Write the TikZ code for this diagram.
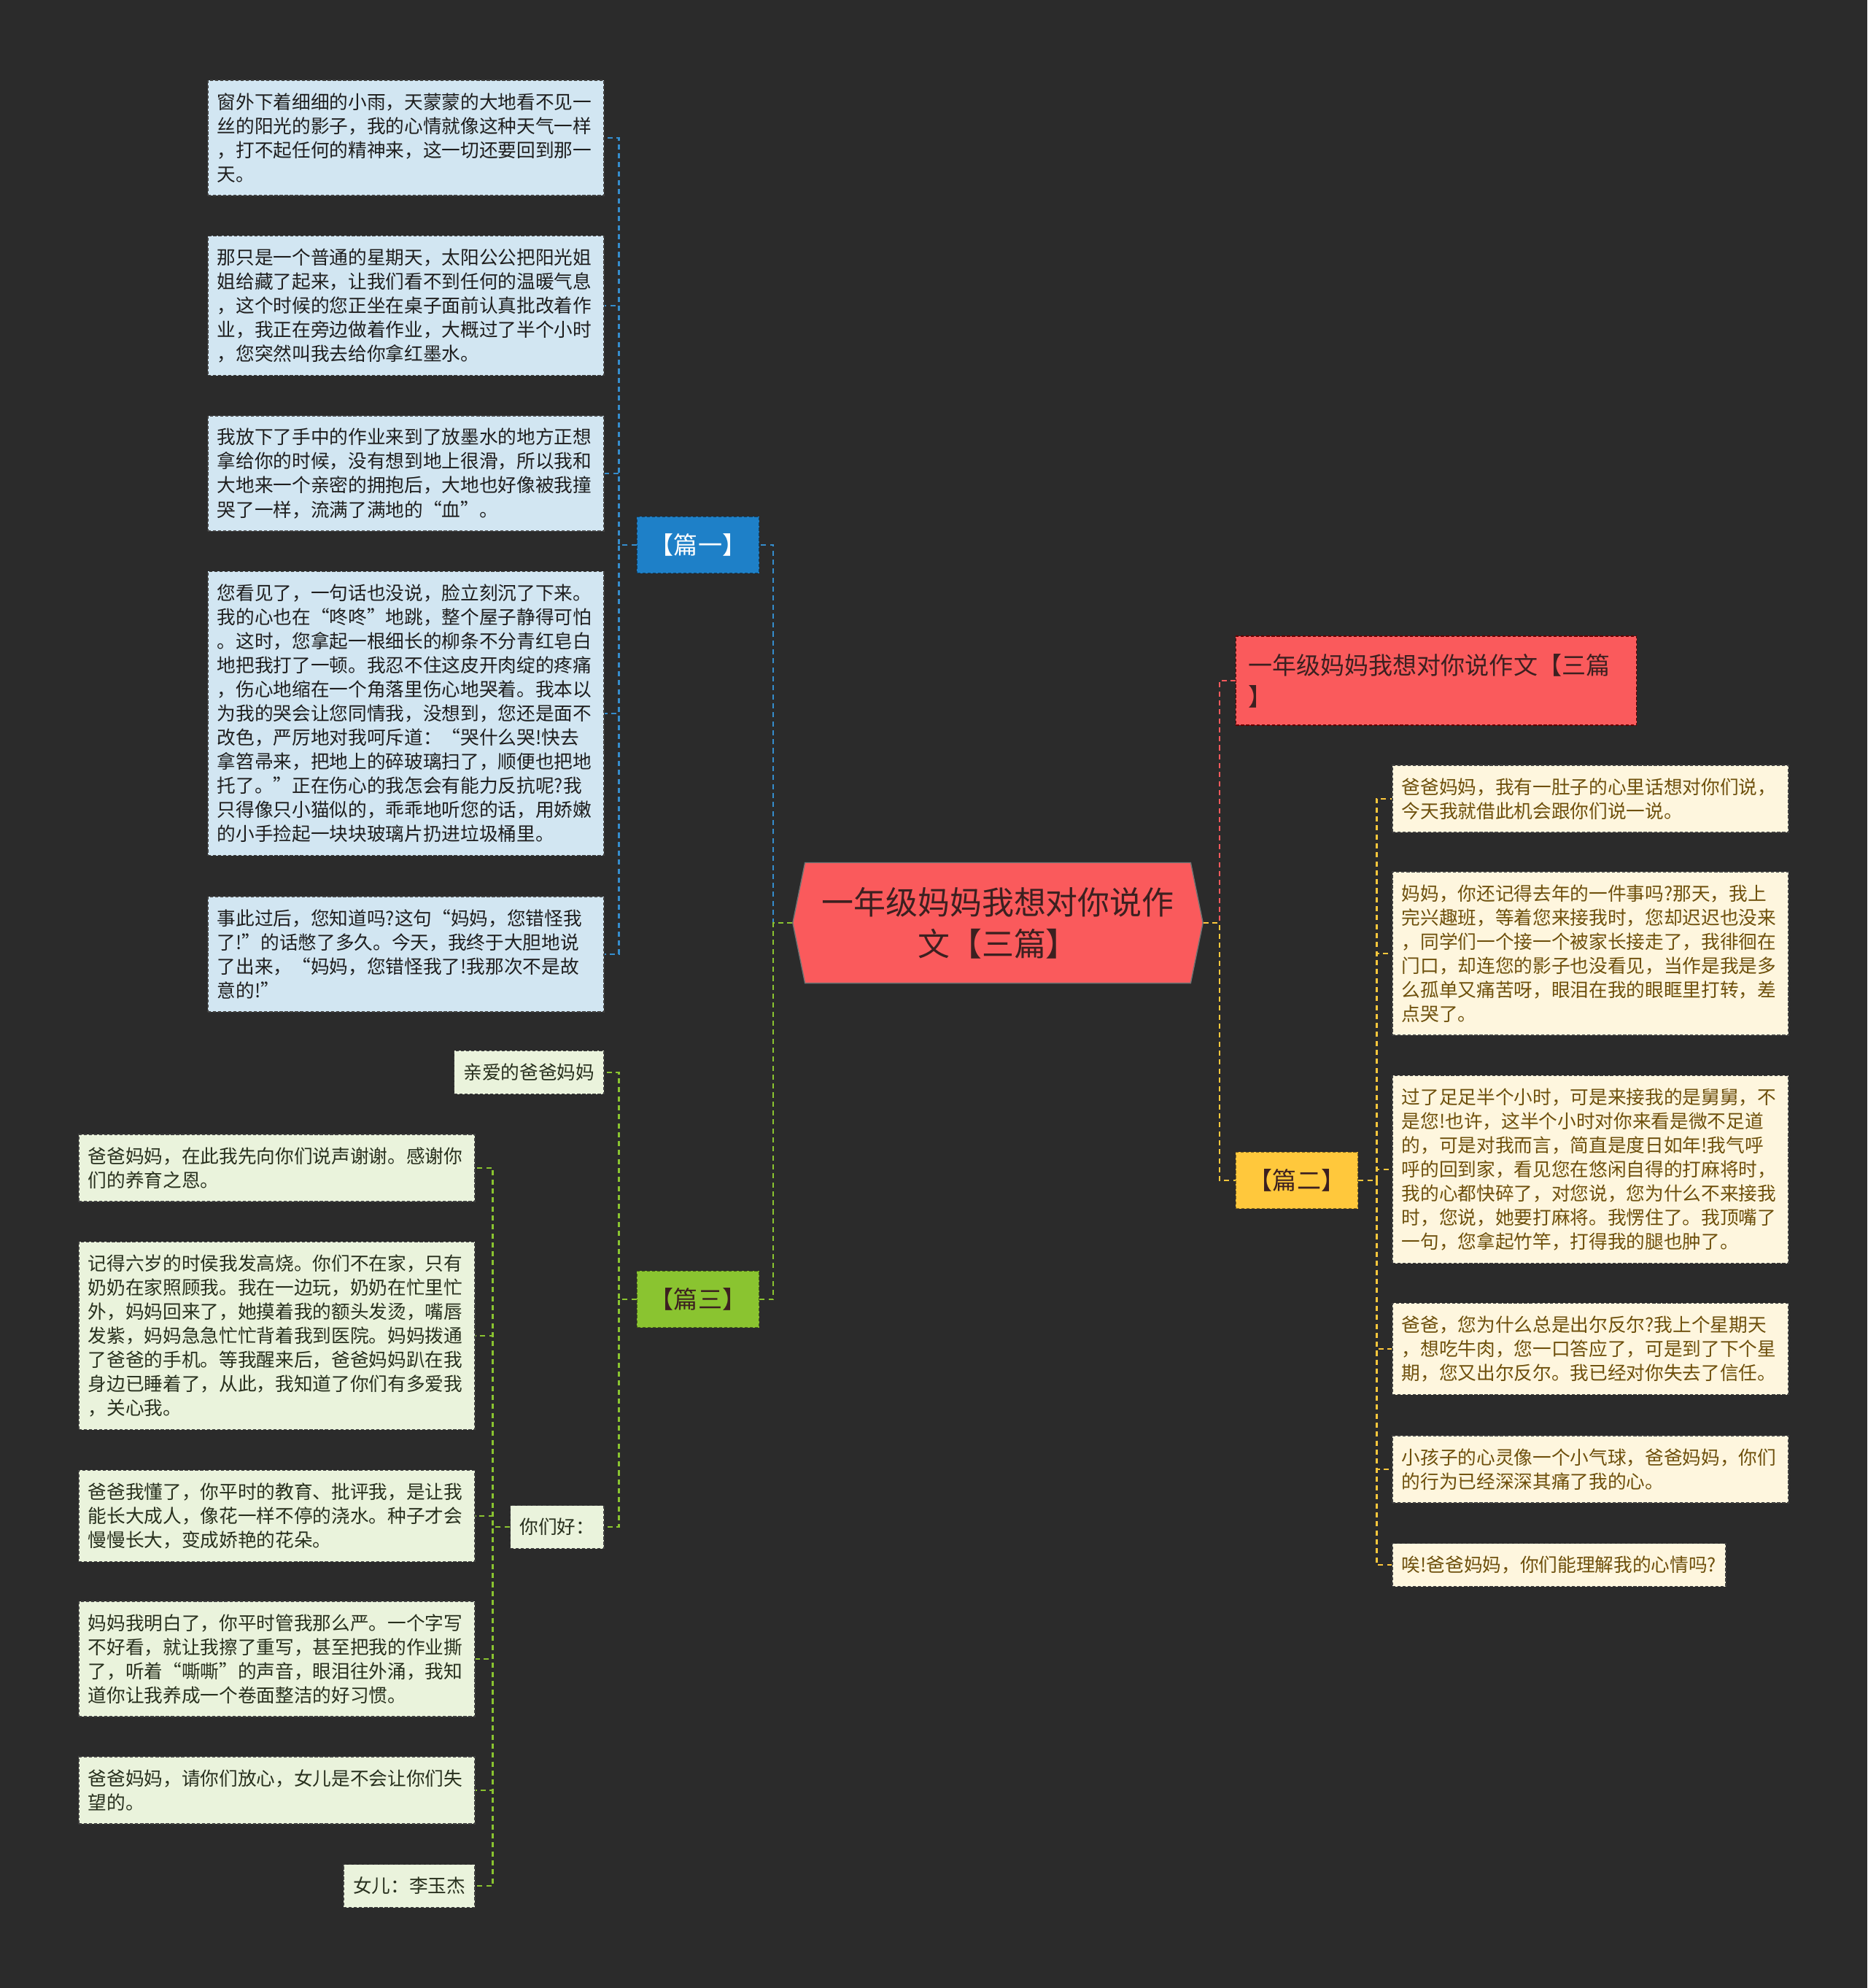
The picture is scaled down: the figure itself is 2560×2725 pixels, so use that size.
\documentclass[tikz,border=0pt]{standalone}
\usepackage{fontspec}
\setmainfont{Noto Sans CJK SC}
\usepackage{tikz}
\usetikzlibrary{shapes.symbols}
\definecolor{cbg}{RGB}{43,43,43}
\definecolor{cred}{RGB}{250,90,92}
\definecolor{chubtxt}{RGB}{60,32,32}
\definecolor{cblue}{RGB}{30,128,200}
\definecolor{cgreen}{RGB}{138,196,48}
\definecolor{cyellow}{RGB}{255,200,60}
\definecolor{cbluebox}{RGB}{210,230,242}
\definecolor{cgreenbox}{RGB}{234,243,220}
\definecolor{cyellowbox}{RGB}{254,246,222}
\definecolor{cbluetxt}{RGB}{30,30,30}
\definecolor{cgreentxt}{RGB}{40,48,30}
\definecolor{cyellowtxt}{RGB}{110,80,12}
\newcommand\hubfont{\fontsize{12.5pt}{16.2pt}\selectfont}
\newcommand\tagfont{\fontsize{9.4pt}{12.2pt}\selectfont}
\newcommand\notefont{\fontsize{7.3pt}{9.39pt}\selectfont}
\tikzset{
  hub/.style={signal,signal to=west and east,signal pointer angle=157,
    fill=cred,draw=black!55,line width=0.4pt,minimum width=5.62cm,
    minimum height=1.65cm,inner sep=0pt,align=center,text=chubtxt,
    font=\hubfont},
  basenote/.style={rectangle,draw=black!75,dash pattern=on 1.2pt off 0.8pt,
    line width=0.45pt,inner xsep=0.13cm,inner ysep=0.13cm,align=left,
    font=\notefont},
  note/.style={basenote,text width=5.17cm},
  nlines/.style={minimum height={#1*0.33cm+0.26cm}},
  bluenote/.style={fill=cbluebox,text=cbluetxt},
  greennote/.style={fill=cgreenbox,text=cgreentxt},
  yellownote/.style={fill=cyellowbox,text=cyellowtxt},
  tag/.style={rectangle,dash pattern=on 1.2pt off 0.8pt,line width=0.45pt,
    minimum width=1.67cm,minimum height=0.77cm,inner sep=0pt,font=\tagfont},
  title/.style={rectangle,fill=cred,draw=red!40!black,
    dash pattern=on 1.2pt off 0.8pt,line width=0.45pt,text=chubtxt,
    minimum width=5.49cm,minimum height=1.22cm,text width=5.15cm,
    inner xsep=0.17cm,align=left,font=\tagfont},
  % connectors: dashed, coloured after their branch
  link/.style={line width=0.7pt,dash pattern=on 2pt off 1.5pt},
  bluelink/.style={link,draw=cblue!90!white},
  greenlink/.style={link,draw=cgreen},
  redlink/.style={link,draw=cred},
  yellowlink/.style={link,draw=cyellow}
}
\begin{document}
\begin{tikzpicture}[x=0.01cm,y=-0.01cm]
  \fill[cbg] (0,0) rectangle (2560,2725);
  % centre and the four branches
  \node[hub] (hub) at (1368,1265) {一年级妈妈我想对你说作\\文【三篇】};
  \node[tag,fill=cblue,draw=cblue!50!black,text=white] (p1) at (957,747) {【篇一】};
  \node[tag,fill=cgreen,draw=cgreen!50!black,text=chubtxt] (p3) at (957,1781) {【篇三】};
  \node[tag,fill=cyellow,draw=cyellow!50!black,text=chubtxt] (p2) at (1778,1618) {【篇二】};
  \node[title] (ttl) at (1969,933) {一年级妈妈我想对你说作文【三篇\\】};

  % part one
  \node[note,bluenote,nlines=4,anchor=east] (b1) at (829,189) {窗外下着细细的小雨，天蒙蒙的大地看不见一\\丝的阳光的影子，我的心情就像这种天气一样\\，打不起任何的精神来，这一切还要回到那一\\天。};
  \node[note,bluenote,nlines=5,anchor=east] (b2) at (829,419) {那只是一个普通的星期天，太阳公公把阳光姐\\姐给藏了起来，让我们看不到任何的温暖气息\\，这个时候的您正坐在桌子面前认真批改着作\\业，我正在旁边做着作业，大概过了半个小时\\，您突然叫我去给你拿红墨水。};
  \node[note,bluenote,nlines=4,anchor=east] (b3) at (829,649) {我放下了手中的作业来到了放墨水的地方正想\\拿给你的时候，没有想到地上很滑，所以我和\\大地来一个亲密的拥抱后，大地也好像被我撞\\哭了一样，流满了满地的“血”。};
  \node[note,bluenote,nlines=11,anchor=east] (b4) at (829,978) {您看见了，一句话也没说，脸立刻沉了下来。\\我的心也在“咚咚”地跳，整个屋子静得可怕\\。这时，您拿起一根细长的柳条不分青红皂白\\地把我打了一顿。我忍不住这皮开肉绽的疼痛\\，伤心地缩在一个角落里伤心地哭着。我本以\\为我的哭会让您同情我，没想到，您还是面不\\改色，严厉地对我呵斥道：“哭什么哭!快去\\拿笤帚来，把地上的碎玻璃扫了，顺便也把地\\托了。”正在伤心的我怎会有能力反抗呢?我\\只得像只小猫似的，乖乖地听您的话，用娇嫩\\的小手捡起一块块玻璃片扔进垃圾桶里。};
  \node[note,bluenote,nlines=4,anchor=east] (b5) at (829,1308) {事此过后，您知道吗?这句“妈妈，您错怪我\\了!”的话憋了多久。今天，我终于大胆地说\\了出来，“妈妈，您错怪我了!我那次不是故\\意的!”};

  % part three
  \node[basenote,greennote,nlines=1,anchor=east] (k1) at (829,1470) {亲爱的爸爸妈妈};
  \node[basenote,greennote,nlines=1,anchor=east] (k2) at (829,2093) {你们好：};
  \node[note,greennote,nlines=2,anchor=east] (g1) at (652,1601) {爸爸妈妈，在此我先向你们说声谢谢。感谢你\\们的养育之恩。};
  \node[note,greennote,nlines=7,anchor=east] (g2) at (652,1831) {记得六岁的时侯我发高烧。你们不在家，只有\\奶奶在家照顾我。我在一边玩，奶奶在忙里忙\\外，妈妈回来了，她摸着我的额头发烫，嘴唇\\发紫，妈妈急急忙忙背着我到医院。妈妈拨通\\了爸爸的手机。等我醒来后，爸爸妈妈趴在我\\身边已睡着了，从此，我知道了你们有多爱我\\，关心我。};
  \node[note,greennote,nlines=3,anchor=east] (g3) at (652,2078) {爸爸我懂了，你平时的教育、批评我，是让我\\能长大成人，像花一样不停的浇水。种子才会\\慢慢长大，变成娇艳的花朵。};
  \node[note,greennote,nlines=4,anchor=east] (g4) at (652,2274) {妈妈我明白了，你平时管我那么严。一个字写\\不好看，就让我擦了重写，甚至把我的作业撕\\了，听着“嘶嘶”的声音，眼泪往外涌，我知\\道你让我养成一个卷面整洁的好习惯。};
  \node[note,greennote,nlines=2,anchor=east] (g5) at (652,2454) {爸爸妈妈，请你们放心，女儿是不会让你们失\\望的。};
  \node[basenote,greennote,nlines=1,anchor=east] (g6) at (652,2585) {女儿：李玉杰};

  % part two
  \node[note,yellownote,nlines=2,anchor=west] (y1) at (1908,1095) {爸爸妈妈，我有一肚子的心里话想对你们说，\\今天我就借此机会跟你们说一说。};
  \node[note,yellownote,nlines=6,anchor=west] (y2) at (1908,1307) {妈妈，你还记得去年的一件事吗?那天，我上\\完兴趣班，等着您来接我时，您却迟迟也没来\\，同学们一个接一个被家长接走了，我徘徊在\\门口，却连您的影子也没看见，当作是我是多\\么孤单又痛苦呀，眼泪在我的眼眶里打转，差\\点哭了。};
  \node[note,yellownote,nlines=7,anchor=west] (y3) at (1908,1603) {过了足足半个小时，可是来接我的是舅舅，不\\是您!也许，这半个小时对你来看是微不足道\\的，可是对我而言，简直是度日如年!我气呼\\呼的回到家，看见您在悠闲自得的打麻将时，\\我的心都快碎了，对您说，您为什么不来接我\\时，您说，她要打麻将。我愣住了。我顶嘴了\\一句，您拿起竹竿，打得我的腿也肿了。};
  \node[note,yellownote,nlines=3,anchor=west] (y4) at (1908,1849) {爸爸，您为什么总是出尔反尔?我上个星期天\\，想吃牛肉，您一口答应了，可是到了下个星\\期，您又出尔反尔。我已经对你失去了信任。};
  \node[note,yellownote,nlines=2,anchor=west] (y5) at (1908,2014) {小孩子的心灵像一个小气球，爸爸妈妈，你们\\的行为已经深深其痛了我的心。};
  \node[basenote,yellownote,nlines=1,anchor=west] (y6) at (1908,2145) {唉!爸爸妈妈，你们能理解我的心情吗?};

  % connectors
  \draw[bluelink] (hub.west) -- ++(-26,0) |- (p1.east);
  \draw[greenlink] (hub.west) -- ++(-26,0) |- (p3.east);
  \draw[redlink] (hub.east) -- ++(22,0) |- (ttl.west);
  \draw[yellowlink] (hub.east) -- ++(22,0) |- (p2.west);
  \foreach \n in {b1,b2,b3,b4,b5}
    \draw[bluelink] (p1.west) -- ++(-24,0) |- (\n.east);
  \foreach \n in {k1,k2}
    \draw[greenlink] (p3.west) -- ++(-24,0) |- (\n.east);
  \foreach \n in {g1,g2,g3,g4,g5,g6}
    \draw[greenlink] (k2.west) -- ++(-23,0) |- (\n.east);
  \foreach \n in {y1,y2,y3,y4,y5,y6}
    \draw[yellowlink] (p2.east) -- ++(25,0) |- (\n.west);
\end{tikzpicture}
\end{document}
